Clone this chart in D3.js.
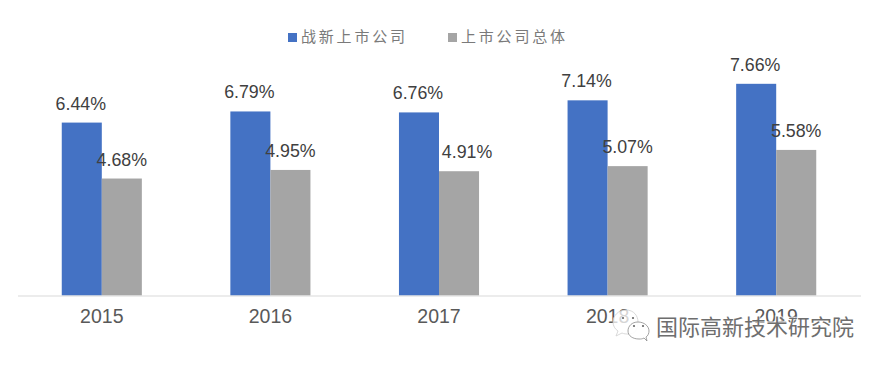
<!DOCTYPE html>
<html>
<head>
<meta charset="utf-8">
<script src="https://cdn.jsdelivr.net/npm/d3@7.9.0/dist/d3.min.js"></script>
<style>
  html, body { margin: 0; padding: 0; background: #fff; }
  svg { display: block; }
  text { font-family: "Liberation Sans", Arial, sans-serif; }
  .cjk { font-family: "Noto Sans CJK SC", sans-serif; }
</style>
</head>
<body>
<div id="chart"></div>
<script>
const years = ['2015', '2016', '2017', '2018', '2019'];
const seriesNames = ['战新上市公司', '上市公司总体'];
const emerging = [6.44, 6.79, 6.76, 7.14, 7.66];
const overall = [4.68, 4.95, 4.91, 5.07, 5.58];
const seriesColors = ['#4472c4', '#a5a5a5'];
const watermark = '国际高新技术研究院';

const width = 882, height = 366;
const baseline = 295.5;

const svg = d3.select('#chart').append('svg')
  .attr('width', width)
  .attr('height', height);

const x = d3.scaleBand()
  .domain(years)
  .range([17.5, 860.5])
  .paddingInner(0.525)
  .paddingOuter(0.2625);

const xSub = d3.scaleBand()
  .domain(seriesNames)
  .range([0, x.bandwidth()]);

// the axis of the original does not start at zero
const y = d3.scaleLinear().domain([1, 8]).range([baseline, baseline - 222.5]);

const rows = years.flatMap((year, i) => [
  { year, name: seriesNames[0], value: emerging[i] },
  { year, name: seriesNames[1], value: overall[i] },
]);

svg.append('g').selectAll('rect')
  .data(rows)
  .join('rect')
  .attr('x', d => x(d.year) + xSub(d.name))
  .attr('y', d => y(d.value))
  .attr('width', xSub.bandwidth())
  .attr('height', d => y(1) - y(d.value))
  .attr('fill', d => seriesColors[seriesNames.indexOf(d.name)]);

const xAxis = svg.append('g')
  .attr('transform', `translate(0, ${baseline})`)
  .call(d3.axisBottom(x).tickSize(0).tickPadding(14));
xAxis.select('.domain').attr('stroke', '#d9d9d9').attr('stroke-width', 1.2);
xAxis.selectAll('text')
  .attr('fill', '#595959')
  .style('font-size', '19.5px')
  .style('font-family', '"Liberation Sans", Arial, sans-serif');

// the 2017 label sits off its bar in the original
const labelDx = d => {
  if (d.name === seriesNames[0]) return -1;
  return d.year === '2017' ? 8 : 0;
};

svg.append('g').selectAll('text')
  .data(rows)
  .join('text')
  .attr('x', d => x(d.year) + xSub(d.name) + xSub.bandwidth() / 2 + labelDx(d))
  .attr('y', d => y(d.value) - 13)
  .attr('text-anchor', 'middle')
  .attr('fill', '#404040')
  .style('font-size', '17.8px')
  .text(d => d.value.toFixed(2) + '%');

// legend
const legend = svg.append('g').selectAll('g')
  .data(seriesNames)
  .join('g')
  .attr('transform', (d, i) => `translate(${i === 0 ? 288 : 448}, 33)`);
legend.append('rect')
  .attr('width', 9)
  .attr('height', 9)
  .attr('fill', (d, i) => seriesColors[i]);
legend.append('text')
  .attr('class', 'cjk')
  .attr('x', 13)
  .attr('y', 8.5)
  .attr('fill', '#7a7a7a')
  .style('font-size', '15px')
  .style('letter-spacing', '2.8px')
  .text(d => d);

// watermark
const icon = svg.append('g').attr('fill', '#fff').attr('stroke', '#8c8c8c').attr('stroke-width', 0.8);
icon.append('path')
  .attr('d', 'M 626 310 C 618 310 613 316 613 322 C 613 326 615 329 618 331 L 616 336 L 622 333 C 624 334 626 334 629 334 C 634 334 638 331 638 322 C 638 316 634 310 626 310 Z')
  .attr('fill-opacity', 0.75)
  .attr('stroke', '#cfcfcf');
icon.append('path')
  .attr('d', 'M 638 322 C 632 322 628 326 628 331 C 628 336 633 339 639 339 C 641 339 642 339 644 338 L 647 341 L 646 337 C 648 336 649 333 649 331 C 649 326 644 322 638 322 Z')
  .attr('fill-opacity', 0.9);
icon.selectAll('circle')
  .data([[623, 318], [633, 318], [634, 326], [643, 326]])
  .join('circle')
  .attr('cx', d => d[0])
  .attr('cy', d => d[1])
  .attr('r', 1.1)
  .attr('fill', '#666')
  .attr('stroke', 'none');

svg.append('text')
  .attr('class', 'cjk')
  .attr('x', 656)
  .attr('y', 335)
  .attr('fill', '#fff')
  .attr('stroke', '#fff')
  .attr('stroke-width', 2.5)
  .attr('stroke-opacity', 0.6)
  .style('font-size', '22px')
  .text(watermark);
svg.append('text')
  .attr('class', 'cjk')
  .attr('x', 656)
  .attr('y', 335)
  .attr('fill', '#6e6e6e')
  .style('font-size', '22px')
  .text(watermark);
</script>
</body>
</html>
